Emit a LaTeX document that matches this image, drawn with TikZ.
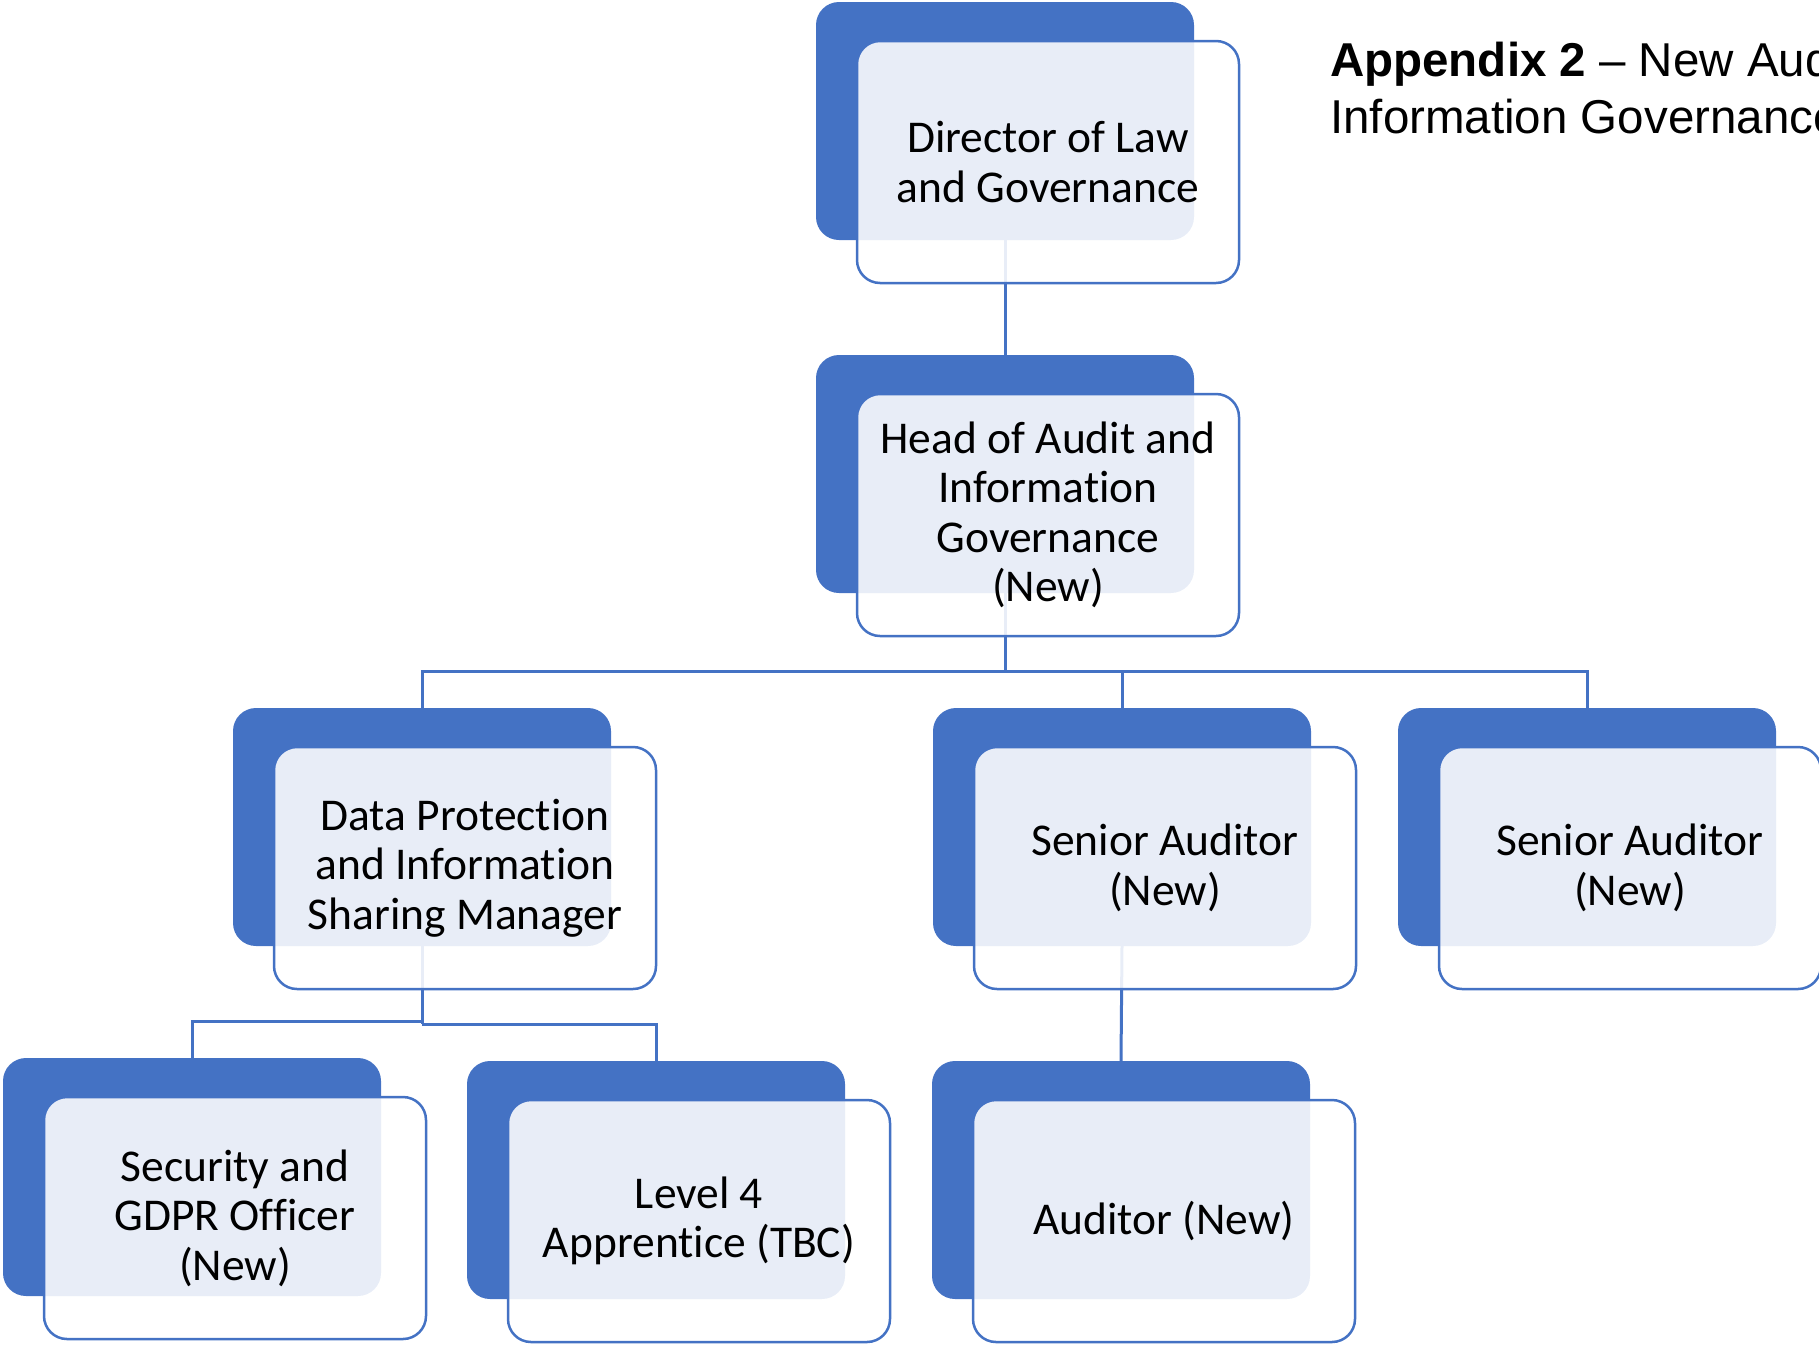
\documentclass[tikz,border=0pt]{standalone}
\usepackage{fontspec}
\setmainfont{Carlito}[RawFeature=-liga]
\newfontfamily\titlefont{Liberation Sans}
\definecolor{obl}{HTML}{4472C4}
\begin{document}
\begin{tikzpicture}[x=1pt,y=-1pt,
  back/.style={fill=obl, draw=none, rounded corners=23pt, minimum width=378pt, minimum height=238pt, inner sep=0pt},
  front/.style={fill=white, fill opacity=0.88, text opacity=1, draw=obl, line width=2.5pt, rounded corners=23pt, minimum width=382pt, minimum height=242pt, inner sep=0pt, align=center, font=\fontsize{45.5}{49.5}\selectfont},
  conn/.style={draw=obl, line width=3pt},
  title/.style={anchor=base west, inner sep=0pt, font=\titlefont\fontsize{47.5}{57}\selectfont}]
\useasboundingbox (0,0) rectangle (1819,1347);
\clip (0,0) rectangle (1819,1347);
% back boxes
\node[back] (dirB) at (1005,121) {};
\node[back] (headB) at (1005,474) {};
\node[back] (dpB) at (422,827) {};
\node[back] (sa1B) at (1122,827) {};
\node[back] (sa2B) at (1587,827) {};
\node[back] (secB) at (192,1177) {};
\node[back] (appB) at (656,1180) {};
\node[back] (audB) at (1121,1180) {};
% connectors
\coordinate (hbar) at (1005,671);
\coordinate (dpL) at (422,1021);
\coordinate (dpR) at (422,1024);
\draw[conn] (dirB.south) -- (headB.north);
\draw[conn] (headB.south) -- (hbar);
\draw[conn] (dpB.north) |- (hbar) -| (sa2B.north);
\draw[conn] (hbar) -| (sa1B.north);
\draw[conn] (dpB.south) -- (dpR);
\draw[conn] (dpL) -| (secB.north);
\draw[conn] (dpR) -| (appB.north);
\draw[conn] (sa1B.south) -- (audB.north);
% front boxes
\node[front] (dirF) at (1048,162) {Director of Law\\and Governance};
\node[front] (headF) at (1048,515) {Head of Audit and\\Information\\Governance\\(New)};
\node[front] (dpF) at (465,868) {Data Protection\\and Information\\Sharing Manager};
\node[front] (sa1F) at (1165,868) {Senior Auditor\\(New)};
\node[front] (sa2F) at (1630,868) {Senior Auditor\\(New)};
\node[front] (secF) at (235,1218) {Security and\\GDPR Officer\\(New)};
\node[front] (appF) at (699,1221) {Level 4\\Apprentice (TBC)};
\node[front] (audF) at (1164,1221) {Auditor (New)};
% title
\node[title] (t1) at (1330,76) {\textbf{Appendix 2} – New Audit};
\node[title] (t2) at (1330,133) {Information Governance};
\end{tikzpicture}
\end{document}
